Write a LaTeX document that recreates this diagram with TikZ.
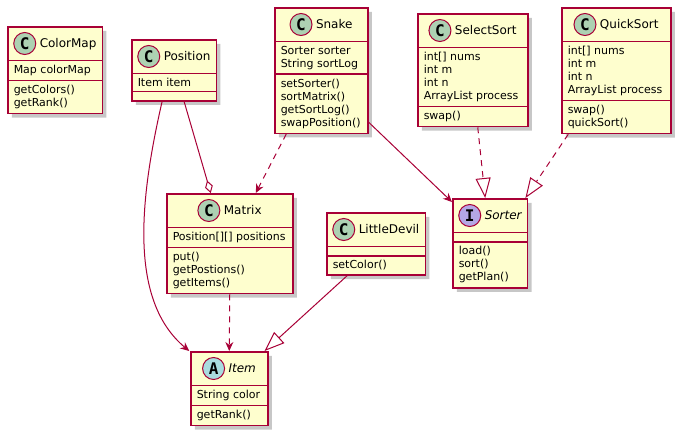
\documentclass[tikz,border=0pt]{standalone}
\usepackage{fontspec}
\setmainfont{DejaVu Sans}
\newfontfamily\iconfont{DejaVu Sans Mono}
\usepackage{xcolor}
\usetikzlibrary{positioning,arrows.meta,shapes.multipart,shadows}
\definecolor{umlred}{HTML}{A80036}
\definecolor{umlfill}{HTML}{FEFECE}
\definecolor{iconC}{HTML}{ADD1B2}
\definecolor{iconA}{HTML}{A9DCDF}
\definecolor{iconI}{HTML}{B4A7E5}
\newcommand{\hd}[1]{{\fontsize{12}{14}\selectfont\hspace{26pt}#1\rule[-7.6pt]{0pt}{24pt}}}
\newcommand{\nomem}{\kern1pt}

\begin{document}
\begin{tikzpicture}[x=1pt, y=-1pt, >={Stealth[length=9pt,width=8pt,inset=3pt]}, every node/.style={font=\fontsize{11}{13}\selectfont}]
\tikzstyle{cls}=[rectangle split, rectangle split parts=3, rectangle split part align={center,left,left}, align=left, anchor=north west, draw=umlred, line width=1.5pt, fill=umlfill, inner xsep=6pt, inner ysep=4pt, drop shadow={shadow xshift=4pt, shadow yshift=-4pt, fill=black, opacity=.22}]
\tikzstyle{icon}=[circle, draw=umlred, line width=1pt, minimum size=22pt, inner sep=0pt, font=\fontsize{16}{16}\iconfont\bfseries]
\tikzstyle{link}=[draw=umlred, line width=1pt]
\tikzstyle{dep}=[link, dash pattern=on 6pt off 5pt]
\tikzstyle{hollow}=[-{Triangle[open,fill=white,length=20pt,width=15pt]}]
\useasboundingbox (0,0) rectangle (683,437);

% Classes, top row
\node[cls, minimum width=90pt] (colormap) at (7,26) {\hd{ColorMap}
  \nodepart{two} Map colorMap
  \nodepart{three} getColors()\\getRank()};
\node[cls, minimum width=78pt] (position) at (131,39) {\hd{Position}
  \nodepart{two} Item item
  \nodepart{three}\nomem};
\node[cls, minimum width=93pt] (snake) at (274,7) {\hd{Snake}
  \nodepart{two} Sorter sorter\\String sortLog
  \nodepart{three} setSorter()\\sortMatrix()\\getSortLog()\\swapPosition()};
\node[cls, minimum width=110pt] (selectsort) at (417,13) {\hd{SelectSort}
  \nodepart{two} int[] nums\\int m\\int n\\ArrayList process
  \nodepart{three} swap()};
\node[cls, minimum width=109pt] (quicksort) at (561,7) {\hd{QuickSort}
  \nodepart{two} int[] nums\\int m\\int n\\ArrayList process
  \nodepart{three} swap()\\quickSort()};

% Classes, lower rows
\node[cls, minimum width=126pt] (matrix) at (166,193) {\hd{Matrix}
  \nodepart{two} Position[][] positions
  \nodepart{three} put()\\getPostions()\\getItems()};
\node[cls, minimum width=90pt] (littledevil) at (326,212) {\hd{LittleDevil}
  \nodepart{two}\nomem
  \nodepart{three} setColor()};
\node[cls, minimum width=70pt] (sorter) at (452,198) {\hd{\itshape Sorter}
  \nodepart{two}\nomem
  \nodepart{three} load()\\sort()\\getPlan()};
\node[cls, minimum width=77pt] (item) at (190,351) {\hd{\itshape Item}
  \nodepart{two} String color
  \nodepart{three} getRank()};

% Icons
\foreach \c in {colormap,position,snake,selectsort,quicksort,matrix,littledevil}
  \node[icon, fill=iconC] (\c-icon) at ([xshift=11pt,yshift=4.4pt]\c.text) {C};
\node[icon, fill=iconI] (sorter-icon) at ([xshift=11pt,yshift=4.4pt]sorter.text) {I};
\node[icon, fill=iconA] (item-icon) at ([xshift=11pt,yshift=4.4pt]item.text) {A};

% Relations
\draw[link, {Diamond[open,fill=white,length=13pt,width=8pt]}-] ([xshift=-19pt]matrix.north) -- ([xshift=10pt]position.south);
\draw[link, ->] ([xshift=-12pt]position.south) .. controls +(-23,100) and +(-60,-50) .. ([xshift=-40pt]item.north);
\draw[dep, ->] ([xshift=-35pt]snake.south) -- ([xshift=26pt]matrix.north);
\draw[link, ->] ([yshift=12pt]snake.south east) -- ([yshift=-4pt]sorter.north west);
\draw[dep, hollow] ([xshift=5pt]selectsort.south) -- ([xshift=-5pt]sorter.north);
\draw[dep, hollow] ([xshift=-48pt]quicksort.south) -- ([xshift=-3pt]sorter.north east);
\draw[dep, ->] (matrix.south) -- (item.north);
\draw[link, hollow] ([xshift=-29pt]littledevil.south) -- ([xshift=-4pt]item.north east);
\end{tikzpicture}
\end{document}
